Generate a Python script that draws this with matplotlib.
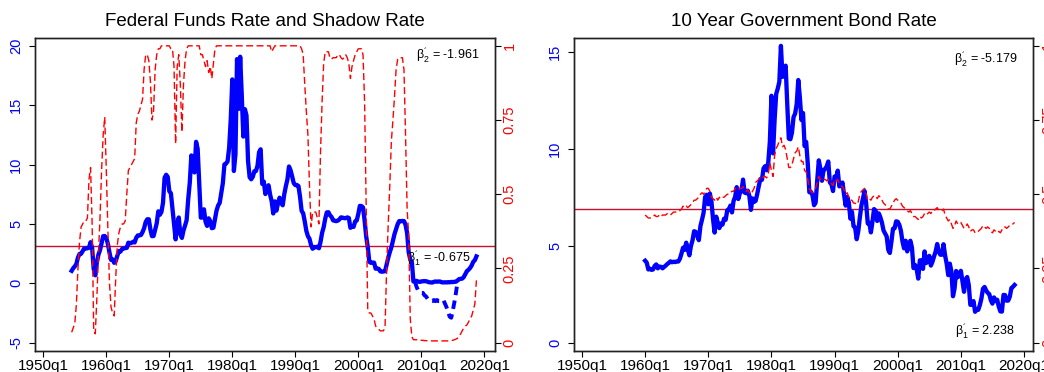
import numpy as np
import matplotlib
matplotlib.use("Agg")
import matplotlib.pyplot as plt

plt.rcParams['font.family'] = ['Liberation Sans', 'DejaVu Sans']
plt.rcParams['mathtext.fontset'] = 'custom'
plt.rcParams['mathtext.rm'] = 'Liberation Sans'
plt.rcParams['mathtext.it'] = 'Liberation Sans:italic'

# ---- left panel: federal funds rate (quarterly, 1954q3 - 2018q4)
ffr = [
    1.06, 1.28,                  # 1954 q3-q4
    1.43, 1.64, 2.18, 2.48,      # 1955
    2.50, 2.73, 2.95, 2.94,      # 1956
    2.96, 3.00, 3.47, 2.98,      # 1957
    1.20, 0.68, 1.76, 2.42,      # 1958
    2.80, 3.39, 3.98, 3.99,      # 1959
    3.84, 3.32, 2.61, 1.98,      # 1960
    2.02, 1.73, 1.88, 2.33,      # 1961
    2.72, 2.68, 2.90, 2.93,      # 1962
    2.98, 2.99, 3.43, 3.38,      # 1963
    3.42, 3.50, 3.45, 3.85,      # 1964
    4.04, 4.04, 4.08, 4.32,      # 1965
    4.65, 5.17, 5.40, 5.40,      # 1966
    4.53, 3.98, 3.99, 4.51,      # 1967
    5.05, 6.07, 5.78, 6.02,      # 1968
    6.79, 8.90, 9.15, 8.97,      # 1969
    7.76, 7.60, 6.29, 4.90,      # 1970
    3.71, 4.91, 5.55, 4.14,      # 1971
    3.83, 4.46, 4.87, 5.33,      # 1972
    7.09, 8.49, 10.78, 9.95,     # 1973
    9.35, 11.93, 11.34, 8.53,    # 1974
    5.54, 5.55, 6.24, 5.20,      # 1975
    4.84, 5.48, 5.25, 4.65,      # 1976
    4.69, 5.39, 6.14, 6.56,      # 1977
    6.79, 7.60, 8.45, 10.03,     # 1978
    10.09, 10.29, 11.43, 13.78,  # 1979
    17.19, 9.47, 10.87, 18.90,   # 1980
    14.70, 19.10, 15.87, 12.37,  # 1981
    14.68, 14.15, 10.31, 8.95,   # 1982
    8.77, 8.98, 9.45, 9.47,      # 1983
    9.91, 11.06, 11.30, 8.38,    # 1984
    8.58, 7.53, 7.92, 8.27,      # 1985
    7.48, 6.92, 5.89, 6.91,      # 1986
    6.13, 6.73, 7.22, 6.77,      # 1987
    6.58, 7.51, 8.19, 8.76,      # 1988
    9.85, 9.53, 9.01, 8.45,      # 1989
    8.28, 8.29, 8.20, 7.31,      # 1990
    6.12, 5.90, 5.22, 4.43,      # 1991
    3.98, 3.76, 3.22, 2.92,      # 1992
    3.07, 3.04, 3.09, 2.96,      # 1993
    3.48, 4.25, 4.73, 5.45,      # 1994
    5.98, 6.00, 5.74, 5.60,      # 1995
    5.31, 5.27, 5.24, 5.29,      # 1996
    5.39, 5.56, 5.54, 5.50,      # 1997
    5.49, 5.56, 5.51, 4.68,      # 1998
    4.81, 4.76, 5.22, 5.30,      # 1999
    5.85, 6.53, 6.52, 6.40,      # 2000
    5.31, 3.97, 3.07, 1.82,      # 2001
    1.73, 1.75, 1.75, 1.24,      # 2002
    1.25, 1.22, 1.01, 0.98,      # 2003
    1.00, 1.03, 1.61, 2.16,      # 2004
    2.63, 3.04, 3.62, 4.16,      # 2005
    4.59, 4.99, 5.25, 5.24,      # 2006
    5.26, 5.25, 4.94, 4.24,      # 2007
    2.61, 2.00, 1.81, 0.16,      # 2008
    0.18, 0.21, 0.15, 0.12,      # 2009
    0.16, 0.18, 0.19, 0.18,      # 2010
    0.14, 0.09, 0.08, 0.07,      # 2011
    0.13, 0.16, 0.14, 0.16,      # 2012
    0.15, 0.09, 0.08, 0.09,      # 2013
    0.08, 0.10, 0.09, 0.12,      # 2014
    0.11, 0.13, 0.14, 0.24,      # 2015
    0.36, 0.38, 0.40, 0.54,      # 2016
    0.79, 1.04, 1.15, 1.30,      # 2017
    1.51, 1.82, 1.95, 2.27,      # 2018
]

# shadow rate, 2009q1 - 2015q4
shadow = [
    0.15, -0.30, -0.60, -0.70,
    -0.80, -0.80, -1.00, -1.10,
    -1.30, -1.40, -1.50, -1.50,
    -1.40, -1.50, -1.40, -1.50,
    -1.50, -1.40, -1.40, -1.70,
    -2.00, -2.40, -2.80, -2.90,
    -2.30, -1.60, -0.80, 0.10,
]

# regime probability (right axis), 1954q3 - 2018q4
prob_ffr = [
    0.035, 0.05,
    0.065, 0.13, 0.25, 0.34,
    0.39, 0.40, 0.41, 0.41,
    0.42, 0.55, 0.59, 0.40,
    0.04, 0.03, 0.15, 0.30,
    0.42, 0.58, 0.70, 0.76,
    0.58, 0.38, 0.20, 0.12,
    0.10, 0.09, 0.22, 0.33,
    0.37, 0.39, 0.40, 0.40,
    0.41, 0.50, 0.58, 0.59,
    0.60, 0.61, 0.62, 0.74,
    0.77, 0.78, 0.80, 0.82,
    0.92, 0.97, 0.97, 0.95,
    0.88, 0.75, 0.78, 0.92,
    0.97, 0.99, 0.99, 1.00,
    1.00, 1.00, 1.00, 1.00,
    1.00, 0.99, 0.99, 0.93,
    0.67, 0.93, 0.97, 0.87,
    0.71, 0.87, 0.95, 0.99,
    1.00, 1.00, 1.00, 1.00,
    1.00, 1.00, 1.00, 1.00,
    0.97, 0.97, 0.95, 0.93,
    0.95, 0.91, 0.93, 0.89,
    0.94, 0.99, 1.00, 1.00,
    1.00, 1.00, 1.00, 1.00,
    1.00, 1.00, 1.00, 1.00,
    1.00, 1.00, 1.00, 1.00,
    1.00, 1.00, 1.00, 1.00,
    1.00, 1.00, 1.00, 1.00,
    1.00, 1.00, 1.00, 1.00,
    1.00, 1.00, 1.00, 1.00,
    1.00, 1.00, 1.00, 1.00,
    1.00, 0.98, 0.99, 1.00,
    1.00, 1.00, 1.00, 1.00,
    1.00, 1.00, 1.00, 1.00,
    1.00, 1.00, 1.00, 1.00,
    1.00, 1.00, 1.00, 1.00,
    0.99, 0.97, 0.87, 0.78,
    0.70, 0.53, 0.39, 0.44,
    0.44, 0.44, 0.42, 0.40,
    0.64, 0.81, 0.94, 0.98,
    0.98, 0.98, 0.96, 0.955,
    0.96, 0.96, 0.96, 0.97,
    0.97, 0.96, 0.955, 0.96,
    0.97, 0.96, 0.94, 0.89,
    0.93, 0.95, 0.97, 0.98,
    0.99, 0.99, 0.99, 0.97,
    0.81, 0.47, 0.11, 0.10,
    0.10, 0.09, 0.08, 0.056,
    0.05, 0.045, 0.04, 0.04,
    0.04, 0.056, 0.25, 0.40,
    0.53, 0.68, 0.75, 0.83,
    0.92, 0.955, 0.96, 0.96,
    0.96, 0.92, 0.70, 0.45,
    0.36, 0.08, 0.02, 0.01,
    0.01, 0.01, 0.01, 0.008,
    0.008, 0.008, 0.007, 0.007,
    0.006, 0.006, 0.006, 0.006,
    0.006, 0.006, 0.006, 0.006,
    0.006, 0.006, 0.006, 0.006,
    0.006, 0.006, 0.007, 0.008,
    0.008, 0.01, 0.012, 0.015,
    0.02, 0.03, 0.04, 0.05,
    0.056, 0.06, 0.07, 0.08,
    0.09, 0.11, 0.13, 0.21,
]

# ---- right panel: 10 year bond rate (quarterly, 1960q1 - 2018q3)
gs10 = [
    4.25, 4.15, 3.80, 3.84,      # 1960
    3.78, 3.80, 3.98, 4.06,      # 1961
    3.86, 3.95, 3.94, 3.86,      # 1962
    3.93, 4.00, 4.08, 4.14,      # 1963
    4.22, 4.17, 4.20, 4.18,      # 1964
    4.21, 4.21, 4.35, 4.62,      # 1965
    4.92, 4.81, 5.18, 4.84,      # 1966
    4.53, 5.01, 5.30, 5.77,      # 1967
    5.74, 5.52, 5.31, 6.03,      # 1968
    6.36, 6.72, 7.54, 7.65,      # 1969
    7.16, 7.71, 7.29, 6.39,      # 1970
    5.70, 6.52, 6.21, 5.93,      # 1971
    6.17, 6.11, 6.42, 6.36,      # 1972
    6.85, 6.90, 7.09, 6.74,      # 1973
    7.33, 7.54, 8.04, 7.43,      # 1974
    7.73, 7.86, 8.43, 7.76,      # 1975
    7.73, 7.86, 7.59, 6.87,      # 1976
    7.46, 7.28, 7.34, 7.69,      # 1977
    8.11, 8.46, 8.42, 9.01,      # 1978
    9.12, 8.91, 9.33, 10.39,     # 1979
    12.75, 9.78, 11.51, 12.84,   # 1980
    13.12, 13.47, 15.32, 13.72,  # 1981
    14.13, 14.30, 12.34, 10.54,  # 1982
    10.51, 10.85, 11.65, 11.83,  # 1983
    12.32, 13.56, 12.66, 11.50,  # 1984
    11.86, 10.16, 10.37, 9.26,   # 1985
    7.78, 7.80, 7.62, 7.11,      # 1986
    7.25, 8.40, 9.42, 8.99,      # 1987
    8.37, 8.92, 8.98, 9.11,      # 1988
    9.36, 8.28, 8.19, 7.84,      # 1989
    8.59, 8.48, 8.89, 8.08,      # 1990
    8.11, 8.28, 7.65, 7.09,      # 1991
    7.54, 7.26, 6.42, 6.77,      # 1992
    6.03, 5.96, 5.36, 5.77,      # 1993
    6.48, 7.10, 7.46, 7.84,      # 1994
    7.20, 6.17, 6.20, 5.71,      # 1995
    6.27, 6.91, 6.83, 6.30,      # 1996
    6.69, 6.49, 6.21, 5.81,      # 1997
    5.65, 5.50, 4.81, 4.65,      # 1998
    5.23, 5.90, 5.92, 6.28,      # 1999
    6.26, 6.10, 5.80, 5.24,      # 2000
    4.89, 5.28, 4.73, 5.09,      # 2001
    5.28, 4.93, 3.87, 4.03,      # 2002
    3.81, 3.33, 4.27, 4.27,      # 2003
    3.83, 4.73, 4.13, 4.23,      # 2004
    4.50, 4.00, 4.20, 4.47,      # 2005
    4.72, 5.11, 4.72, 4.56,      # 2006
    4.56, 5.10, 4.52, 4.10,      # 2007
    3.51, 4.10, 3.69, 2.42,      # 2008
    2.82, 3.72, 3.40, 3.59,      # 2009
    3.73, 3.20, 2.65, 3.29,      # 2010
    3.41, 3.00, 1.98, 1.98,      # 2011
    2.17, 1.62, 1.72, 1.72,      # 2012
    1.96, 2.30, 2.81, 2.90,      # 2013
    2.72, 2.60, 2.53, 2.21,      # 2014
    2.04, 2.36, 2.17, 2.24,      # 2015
    1.89, 1.64, 1.63, 2.49,      # 2016
    2.48, 2.19, 2.20, 2.40,      # 2017
    2.84, 2.91, 3.00,            # 2018 q1-q3
]

prob_gs10 = [
    0.43, 0.425, 0.42, 0.42,
    0.42, 0.425, 0.43, 0.425,
    0.425, 0.43, 0.425, 0.43,
    0.43, 0.43, 0.435, 0.43,
    0.43, 0.435, 0.44, 0.44,
    0.44, 0.44, 0.445, 0.45,
    0.46, 0.455, 0.46, 0.455,
    0.46, 0.465, 0.47, 0.48,
    0.48, 0.485, 0.49, 0.50,
    0.505, 0.50, 0.51, 0.52,
    0.52, 0.51, 0.49, 0.485,
    0.48, 0.49, 0.48, 0.49,
    0.485, 0.49, 0.49, 0.495,
    0.50, 0.50, 0.505, 0.51,
    0.51, 0.52, 0.515, 0.52,
    0.52, 0.52, 0.525, 0.515,
    0.51, 0.515, 0.505, 0.50,
    0.51, 0.52, 0.54, 0.545,
    0.55, 0.555, 0.55, 0.56,
    0.56, 0.555, 0.57, 0.605,
    0.58, 0.56, 0.63, 0.655,
    0.665, 0.68, 0.69, 0.66,
    0.665, 0.65, 0.62, 0.59,
    0.59, 0.60, 0.62, 0.64,
    0.645, 0.66, 0.63, 0.61,
    0.61, 0.58, 0.575, 0.55,
    0.52, 0.51, 0.505, 0.51,
    0.52, 0.54, 0.56, 0.55,
    0.545, 0.55, 0.55, 0.545,
    0.55, 0.54, 0.535, 0.53,
    0.55, 0.545, 0.55, 0.535,
    0.53, 0.525, 0.515, 0.50,
    0.505, 0.49, 0.48, 0.48,
    0.47, 0.47, 0.465, 0.475,
    0.50, 0.51, 0.515, 0.52,
    0.50, 0.48, 0.485, 0.48,
    0.49, 0.495, 0.495, 0.485,
    0.495, 0.49, 0.48, 0.47,
    0.465, 0.46, 0.45, 0.45,
    0.46, 0.47, 0.48, 0.485,
    0.48, 0.475, 0.47, 0.46,
    0.455, 0.45, 0.445, 0.44,
    0.445, 0.435, 0.425, 0.425,
    0.42, 0.415, 0.425, 0.42,
    0.425, 0.435, 0.43, 0.435,
    0.44, 0.435, 0.445, 0.445,
    0.45, 0.455, 0.445, 0.445,
    0.445, 0.45, 0.43, 0.42,
    0.41, 0.415, 0.40, 0.385,
    0.395, 0.41, 0.40, 0.405,
    0.405, 0.395, 0.385, 0.39,
    0.40, 0.39, 0.375, 0.38,
    0.38, 0.37, 0.37, 0.375,
    0.38, 0.385, 0.395, 0.39,
    0.385, 0.39, 0.385, 0.375,
    0.37, 0.38, 0.375, 0.37,
    0.375, 0.37, 0.38, 0.39,
    0.39, 0.385, 0.39, 0.395,
    0.40, 0.40, 0.405,
]

thresh_ffr = 3.18
thresh_gs10 = 6.91
year_ticks = [1950, 1960, 1970, 1980, 1990, 2000, 2010, 2020]
prob_ticks = [0, 0.25, 0.5, 0.75, 1]
prob_labels = ['0', '0.25', '0.5', '0.75', '1']


def qdates(year, q, n):
    return year + (q - 1) / 4 + np.arange(n) / 4


t_ffr = qdates(1954, 3, len(ffr))
t_shadow = qdates(2009, 1, len(shadow))
t_gs10 = qdates(1960, 1, len(gs10))

fig = plt.figure(figsize=(10.44, 3.72), dpi=100)
ax1 = fig.add_axes([35 / 1044, 1 - 351 / 372, 460 / 1044, 313.5 / 372])
ax2 = fig.add_axes([574 / 1044, 1 - 351 / 372, 459.3 / 1044, 313.5 / 372])

hcol = '#c8102e'


def style(ax, axr, ylim, yticks):
    ax.set_xticks(year_ticks)
    ax.set_xticklabels([f'{y}q1' for y in year_ticks], fontsize=11)
    ax.set_ylim(*ylim)
    ax.set_yticks(yticks)
    ax.set_yticklabels([str(v) for v in yticks], rotation=90, va='center',
                       color='blue', fontsize=10.5)
    ax.tick_params(axis='both', direction='out', length=4.5, width=0.8)
    ax.tick_params(axis='y', pad=4)
    ax.tick_params(axis='x', pad=1.5)
    axr.set_ylim(-0.028, 1.028)
    axr.set_yticks(prob_ticks)
    axr.set_yticklabels(prob_labels, rotation=90, va='center', color='red',
                        fontsize=10.5)
    axr.tick_params(axis='y', direction='out', length=4.5, width=0.8, pad=1)
    for a in (ax, axr):
        for s in a.spines.values():
            s.set_linewidth(1.0)
            s.set_color('#222222')


def beta(i):
    return r"$\mathrm{β}^{\mathrm{´}}_{%d}$" % i


# left panel
ax1.axhline(thresh_ffr, color=hcol, lw=1.0, zorder=1)
ax1.plot(t_ffr, ffr, color='blue', lw=3.1, solid_joinstyle='round', zorder=3)
ax1.plot(t_shadow, shadow, color='blue', lw=2.8, dashes=(2.2, 1.4), zorder=3)
ax1r = ax1.twinx()
ax1r.plot(t_ffr, prob_ffr, color='red', lw=1.0, dashes=(5, 2.5))
style(ax1, ax1r, (-5.70, 20.72), [-5, 0, 5, 10, 15, 20])
ax1.set_xlim(1948.68, 2021.7)
ax1.text(0.967, 0.943, beta(2) + ' = -1.961', transform=ax1.transAxes,
         ha='right', va='center', fontsize=9)
ax1.text(0.948, 0.296, beta(1) + ' = -0.675', transform=ax1.transAxes,
         ha='right', va='center', fontsize=9)
fig.text((35 + 495) / 2 / 1044, 1 - 22 / 372, 'Federal Funds Rate and Shadow Rate',
         ha='center', va='center', fontsize=13.5)

# right panel
ax2.axhline(thresh_gs10, color=hcol, lw=1.0, zorder=1)
ax2.plot(t_gs10, gs10, color='blue', lw=3.1, solid_joinstyle='round', zorder=3)
ax2r = ax2.twinx()
ax2r.plot(t_gs10, prob_gs10, color='red', lw=1.0, dashes=(5, 2.5))
style(ax2, ax2r, (-0.40, 15.75), [0, 5, 10, 15])
ax2.set_xlim(1948.73, 2021.47)
ax2.text(0.965, 0.932, beta(2) + ' = -5.179', transform=ax2.transAxes,
         ha='right', va='center', fontsize=9)
ax2.text(0.96, 0.063, beta(1) + ' = 2.238', transform=ax2.transAxes,
         ha='right', va='center', fontsize=9)
fig.text((574 + 1033) / 2 / 1044, 1 - 22 / 372, '10 Year Government Bond Rate',
         ha='center', va='center', fontsize=13.5)

fig.savefig('out.png', dpi=100)
